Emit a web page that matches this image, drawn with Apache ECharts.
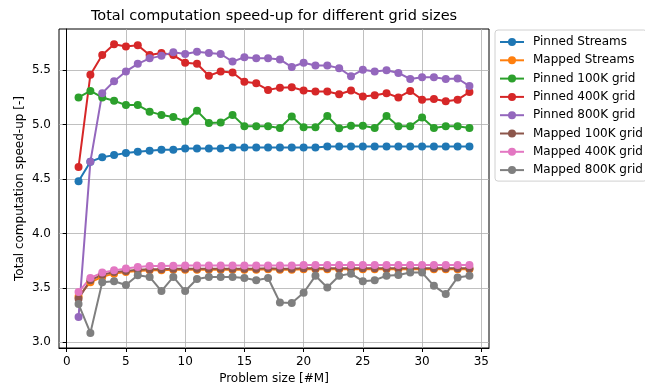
<!DOCTYPE html>
<html>
<head>
<meta charset="utf-8">
<script src="https://cdn.jsdelivr.net/npm/echarts@6/dist/echarts.min.js"></script>
<style>
html,body{margin:0;padding:0;background:#fff;}
#chart{width:645px;height:385px;}
</style>
</head>
<body>
<div id="chart"></div>
<script>
const problemSizes = [1,2,3,4,5,6,7,8,9,10,11,12,13,14,15,16,17,18,19,20,21,22,23,24,25,26,27,28,29,30,31,32,33,34];

const pinnedStreams = [4.48,4.66,4.70,4.72,4.74,4.75,4.76,4.77,4.77,4.78,4.78,4.78,4.78,4.79,4.79,4.79,4.79,4.79,4.79,4.79,4.79,4.80,4.80,4.80,4.80,4.80,4.80,4.80,4.80,4.80,4.80,4.80,4.80,4.80];
const mappedStreams = [3.42,3.55,3.60,3.63,3.645,3.655,3.66,3.66,3.665,3.665,3.665,3.665,3.665,3.665,3.665,3.665,3.67,3.665,3.665,3.67,3.67,3.67,3.67,3.67,3.67,3.67,3.67,3.67,3.67,3.67,3.67,3.67,3.67,3.67];
const pinned100K = [5.25,5.31,5.25,5.22,5.18,5.18,5.12,5.09,5.07,5.03,5.127,5.015,5.02,5.09,4.985,4.985,4.985,4.97,5.076,4.976,4.976,5.08,4.967,4.99,4.99,4.97,5.08,4.985,4.985,5.067,4.97,4.985,4.985,4.97];
const pinned400K = [4.61,5.46,5.64,5.74,5.72,5.73,5.64,5.66,5.64,5.57,5.56,5.45,5.49,5.48,5.395,5.38,5.32,5.34,5.345,5.315,5.306,5.306,5.28,5.315,5.26,5.27,5.29,5.25,5.31,5.23,5.236,5.215,5.23,5.30];
const pinned800K = [3.23,4.66,5.29,5.40,5.49,5.56,5.61,5.633,5.667,5.65,5.67,5.66,5.65,5.58,5.62,5.61,5.61,5.60,5.53,5.57,5.545,5.545,5.52,5.445,5.506,5.49,5.50,5.476,5.42,5.436,5.436,5.42,5.425,5.355];
const mapped100K = [3.40,3.57,3.62,3.645,3.655,3.665,3.67,3.67,3.675,3.675,3.675,3.675,3.675,3.675,3.675,3.675,3.68,3.675,3.675,3.68,3.68,3.68,3.68,3.68,3.68,3.68,3.68,3.68,3.68,3.68,3.68,3.68,3.68,3.68];
const mapped400K = [3.46,3.59,3.64,3.66,3.677,3.69,3.70,3.70,3.703,3.705,3.705,3.705,3.705,3.705,3.705,3.705,3.705,3.705,3.705,3.71,3.71,3.71,3.71,3.71,3.71,3.71,3.71,3.71,3.71,3.71,3.71,3.71,3.71,3.71];
const mapped800K = [3.35,3.085,3.55,3.56,3.525,3.615,3.60,3.47,3.60,3.47,3.58,3.60,3.60,3.60,3.59,3.57,3.59,3.365,3.36,3.454,3.61,3.503,3.61,3.63,3.561,3.57,3.61,3.617,3.64,3.64,3.518,3.442,3.595,3.61];

const seriesNames = ["Pinned Streams","Mapped Streams","Pinned 100K grid","Pinned 400K grid","Pinned 800K grid","Mapped 100K grid","Mapped 400K grid","Mapped 800K grid"];
const seriesValues = [pinnedStreams,mappedStreams,pinned100K,pinned400K,pinned800K,mapped100K,mapped400K,mapped800K];
const colors = ["#1f77b4","#ff7f0e","#2ca02c","#d62728","#9467bd","#8c564b","#e377c2","#7f7f7f"];

const xTicks = [0,5,10,15,20,25,30,35];
const yTicks = [3.0,3.5,4.0,4.5,5.0,5.5];

const chartTitle = "Total computation speed-up for different grid sizes";
const xName = "Problem size [#M]";
const yName = "Total computation speed-up [-]";

const FONT = "DejaVu Sans";
const chart = echarts.init(document.getElementById('chart'), null, {renderer:'canvas'});

const series = seriesNames.map((name, i) => ({
  name: name,
  type: 'line',
  data: problemSizes.map((x, j) => [x, seriesValues[i][j]]),
  symbol: 'circle',
  symbolSize: 8,
  showSymbol: true,
  lineStyle: {width: 2, color: colors[i]},
  itemStyle: {color: colors[i]},
  emphasis: {disabled: true},
  animation: false
}));

chart.setOption({
  animation: false,
  color: colors,
  textStyle: {fontFamily: FONT},
  grid: {left: 59, top: 29, right: 156, bottom: 37, show: true, borderColor: '#000', borderWidth: 1,
         backgroundColor: 'transparent', containLabel: false, outerBoundsMode: 'none'},
  graphic: [{
    type: 'text', x: 274, y: 16,
    style: {text: chartTitle, font: '14.5px "DejaVu Sans"', fill: '#000', align: 'center', verticalAlign: 'middle'}
  }],
  legend: {
    orient: 'vertical',
    left: 495, top: 30,
    padding: [6, 4, 5, 4],
    itemWidth: 24, itemHeight: 10, itemGap: 6.3,
    borderColor: '#d0d0d0', borderWidth: 1, borderRadius: 3,
    backgroundColor: '#fff',
    textStyle: {fontFamily: FONT, fontSize: 12, color: '#000', padding: [0,0,0,4]},
    data: seriesNames
  },
  xAxis: {
    type: 'value',
    min: -0.65, max: 35.65,
    splitNumber: 7, minInterval: 5, maxInterval: 5,
    name: xName, nameLocation: 'middle', nameGap: 25, nameMoveOverlap: false,
    nameTextStyle: {fontFamily: FONT, fontSize: 12, color: '#000'},
    axisLine: {show: true, lineStyle: {color: '#000', width: 1}},
    axisTick: {show: true, inside: false, length: 4, lineStyle: {color: '#000'}, customValues: xTicks},
    axisLabel: {
      fontFamily: FONT, fontSize: 12, color: '#000', margin: 8,
      customValues: xTicks,
      formatter: v => String(Math.round(v))
    },
    splitLine: {show: true, lineStyle: {color: '#b0b0b0', width: 1, opacity: 0.8}}
  },
  yAxis: {
    type: 'value',
    min: 2.946, max: 5.88,
    splitNumber: 6, minInterval: 0.5, maxInterval: 0.5,
    name: yName, nameLocation: 'middle', nameGap: 33, nameMoveOverlap: false,
    nameTextStyle: {fontFamily: FONT, fontSize: 12, color: '#000'},
    axisLine: {show: true, lineStyle: {color: '#000', width: 1}},
    axisTick: {show: true, inside: false, length: 4, lineStyle: {color: '#000'}, customValues: yTicks},
    axisLabel: {
      fontFamily: FONT, fontSize: 12, color: '#000', margin: 8,
      customValues: yTicks,
      formatter: v => Number(v).toFixed(1)
    },
    splitLine: {show: true, lineStyle: {color: '#b0b0b0', width: 1, opacity: 0.8}}
  },
  series: series
});
</script>
</body>
</html>
